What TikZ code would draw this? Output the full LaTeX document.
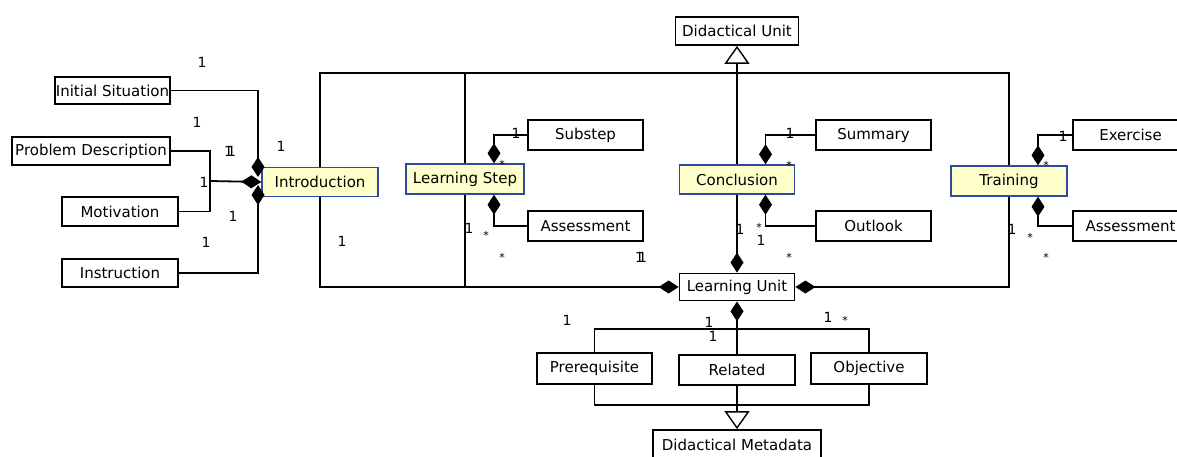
\documentclass[tikz,border=0pt]{standalone}
\usepackage{fontspec}
\setmainfont{DejaVu Sans}
\usetikzlibrary{arrows.meta}
\definecolor{noteyellow}{RGB}{255,255,204}
\definecolor{noteblue}{RGB}{48,72,160}
\begin{document}
\begin{tikzpicture}[x=1pt,y=-1pt,
  every node/.style={font=\fontsize{15}{17}\selectfont},
  box/.style={draw=black, line width=1.8pt, fill=white, inner sep=0pt, minimum width=115pt, minimum height=29pt},
  keybox/.style={box, draw=noteblue, line width=1.4pt, fill=noteyellow},
  mult/.style={inner sep=0pt, font=\fontsize{14}{15}\selectfont},
  star/.style={inner sep=0pt, font=\fontsize{11}{11}\selectfont},
  comp/.style={line width=1.8pt, -{Diamond[length=20pt,width=13pt]}},
  gen/.style={line width=1.8pt, -{Triangle[open,length=18pt,width=25pt,line width=1.4pt]}},
  link/.style={line width=1.8pt}]
  \useasboundingbox (0,0) rectangle (1177,457);
  \coordinate (hubtop) at (0,73);
  \coordinate (hubmid) at (0,329);
  \coordinate (hubbot) at (0,405);
  \coordinate (junc) at (210,181);
  \coordinate (introN) at (258,177);
  \coordinate (introS) at (258,185);
  % central units
  \node [box, minimum width=123pt, minimum height=28pt] (du) at (737,31) {Didactical Unit};
  \node [box, minimum height=27pt] (lu) at (737,287) {Learning Unit};
  \node [box, minimum width=168pt, minimum height=30pt] (dmeta) at (737,445) {Didactical Metadata};
  % parts of a unit
  \node [keybox, minimum width=116pt] (intro) at (320,182) {Introduction};
  \node [keybox, minimum width=118pt, minimum height=30pt] (lstep) at (465,179) {Learning Step};
  \node [keybox] (concl) at (737,179.5) {Conclusion};
  \node [keybox, minimum width=116pt, minimum height=30pt] (train) at (1009,181) {Training};
  % introduction parts
  \node [box, minimum height=27pt] (initsit) at (112.5,90.5) {Initial Situation};
  \node [box, minimum width=158pt, minimum height=28pt] (probdesc) at (91,151) {Problem Description};
  \node [box, minimum width=116pt] (motiv) at (120,211.5) {Motivation};
  \node [box, minimum width=116pt, minimum height=28pt] (instr) at (120,273) {Instruction};
  % step, conclusion and training parts
  \node [box, minimum height=30pt] (substep) at (585.5,135) {Substep};
  \node [box, minimum height=30pt] (assessA) at (585.5,226) {Assessment};
  \node [box, minimum height=30pt] (summary) at (873.5,135) {Summary};
  \node [box, minimum height=30pt] (outlook) at (873.5,226) {Outlook};
  \node [box, minimum height=30pt] (exercise) at (1130.5,135) {Exercise};
  \node [box, minimum height=30pt] (assessB) at (1130.5,226) {Assessment};
  % metadata
  \node [box, minimum height=31pt] (prereq) at (594.5,368.5) {Prerequisite};
  \node [box, minimum width=116pt, minimum height=30pt] (related) at (737,370) {Related};
  \node [box, minimum width=116pt, minimum height=31pt] (objective) at (869,368.5) {Objective};
  % generalisation to Didactical Unit
  \draw [gen] (concl.north) -- (du.south);
  \draw [link] (intro.north) -- (intro.north |- hubtop) -- (train.north |- hubtop) -- (train.north);
  \draw [link] (lstep.north) -- (lstep.north |- hubtop);
  % composition into Learning Unit
  \draw [comp] (intro.south) |- (lu.west);
  \draw [link] (lstep.south) -- (lstep.south |- lu.west);
  \draw [comp] (train.south) |- (lu.east);
  \draw [comp] (concl.south) -- (lu.north);
  % introduction
  \draw [comp] (initsit.east) -| (introN);
  \draw [comp] (instr.east) -| (introS);
  \draw [link] (probdesc.east) -| (junc) |- (motiv.east);
  \draw [comp] (junc) -- (intro.west);
  % learning step, conclusion, training
  \draw [comp] (substep.west) -| ([xshift=29pt]lstep.north);
  \draw [comp] (assessA.west) -| ([xshift=29pt]lstep.south);
  \draw [comp] (summary.west) -| ([xshift=28.5pt]concl.north);
  \draw [comp] (outlook.west) -| ([xshift=28.5pt]concl.south);
  \draw [comp] (exercise.west) -| ([xshift=29pt]train.north);
  \draw [comp] (assessB.west) -| ([xshift=29pt]train.south);
  % metadata
  \draw [comp] (related.north) -- (lu.south);
  \draw [link] (prereq.north) -- (prereq.north |- hubmid) -- (objective.north |- hubmid) -- (objective.north);
  \draw [link] (prereq.south) -- (prereq.south |- hubbot) -- (objective.south |- hubbot) -- (objective.south);
  \draw [gen] (related.south) -- (dmeta.north);
  % multiplicities
  \node [mult] (mA) at (202,62) {1};
  \node [mult] (mB) at (197,122) {1};
  \node [mult] (mC) at (230,151) {1\kern-6pt1};
  \node [mult] (mD) at (281,146) {1};
  \node [mult] (mE) at (204,182) {1};
  \node [mult] (mF) at (233,216) {1};
  \node [mult] (mG) at (206,242) {1};
  \node [mult] (mH) at (342,241) {1};
  \node [mult] (mI) at (516,133) {1};
  \node [star] (sJ) at (502,164) {*};
  \node [mult] (mK) at (469,228) {1};
  \node [star] (sL) at (486,235) {*};
  \node [star] (sM) at (502,257) {*};
  \node [mult] (mN) at (641,257) {1\kern-6pt1};
  \node [mult] (mO) at (790,133) {1};
  \node [star] (sP) at (789,165) {*};
  \node [mult] (mQ) at (740,229) {1};
  \node [star] (sR) at (759,227) {*};
  \node [mult] (mS) at (761,240) {1};
  \node [star] (sT) at (789,257) {*};
  \node [mult] (mU) at (1063,136) {1};
  \node [star] (sV) at (1046,165) {*};
  \node [mult] (mW) at (1012,229) {1};
  \node [star] (sX) at (1030,237) {*};
  \node [star] (sY) at (1046,257) {*};
  \node [mult] (mZ) at (567,320) {1};
  \node [mult] (mAA) at (709,322) {1};
  \node [mult] (mAB) at (713,336) {1};
  \node [mult] (mAC) at (828,317) {1};
  \node [star] (sAD) at (845,320) {*};
\end{tikzpicture}
\end{document}
